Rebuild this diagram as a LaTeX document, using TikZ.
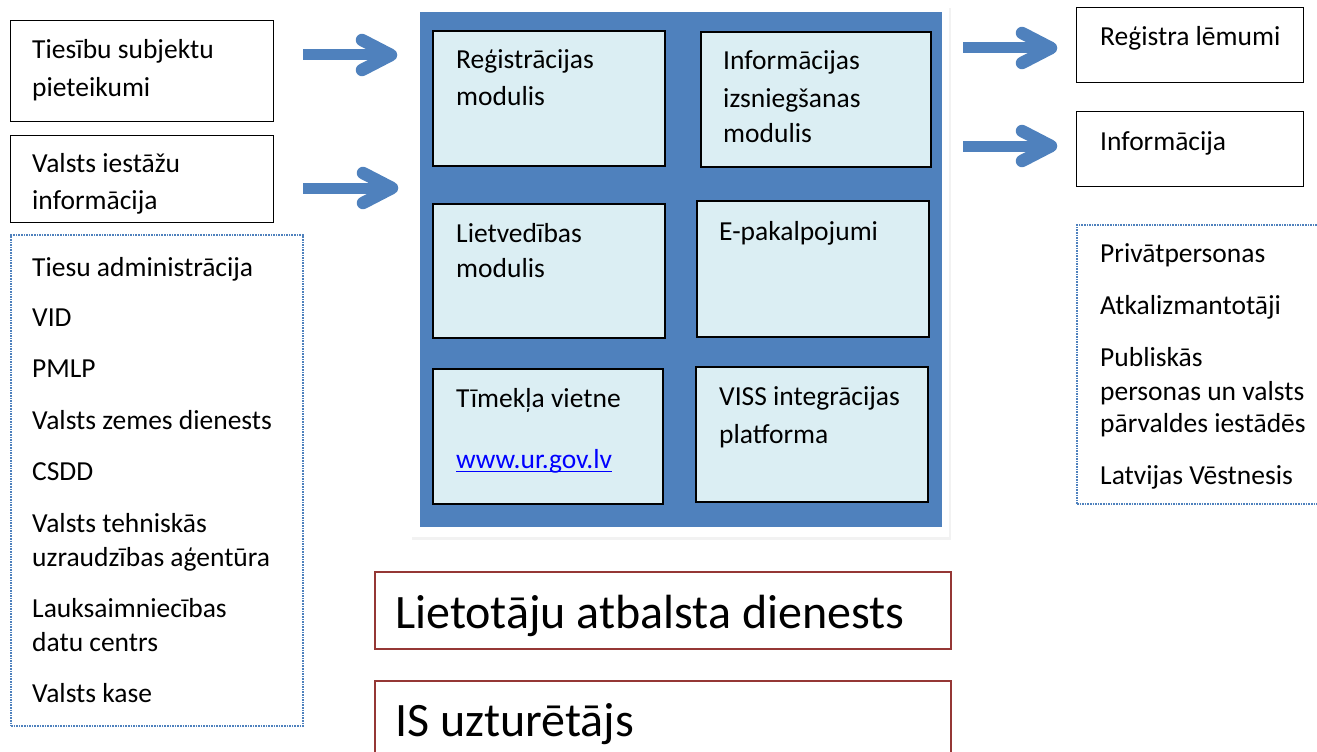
\documentclass[tikz,border=0pt]{standalone}
\usepackage{fontspec}
\setmainfont{Carlito}
\definecolor{mainblue}{HTML}{4F81BD}
\definecolor{lightbox}{HTML}{DBEEF3}
\definecolor{darkred}{HTML}{953735}
\definecolor{linkblue}{HTML}{0000FF}
\begin{document}
\begin{tikzpicture}[x=1pt,y=-1pt,
  txt/.style={anchor=base west,inner sep=0pt,font=\fontsize{27.5}{33}\selectfont},
  bigtxt/.style={anchor=base west,inner sep=0pt,font=\fontsize{48}{56}\selectfont},
  wbox/.style={draw=black,line width=1.3pt,fill=white,anchor=north west,inner sep=0pt},
  ibox/.style={draw=black,line width=1.6pt,fill=lightbox,anchor=north west,inner sep=0pt},
  dbox/.style={draw=mainblue,line width=2pt,dash pattern=on 1.6pt off 1pt,anchor=north west,inner sep=0pt},
  rbox/.style={draw=darkred,line width=1.5pt,fill=white,anchor=north west,inner sep=0pt},
  shaft/.style={draw=mainblue,line width=11pt},
  chev/.style={draw=mainblue,line width=12.5pt,line cap=round,line join=round}]
\useasboundingbox (0,0) rectangle (1317,752);
\clip (0,0) rectangle (1317,752);

% left input boxes
\node[wbox,minimum width=263pt,minimum height=101pt] (subj) at (10,20) {};
\node[txt] (subj1) at (32,59) {Tiesību subjektu};
\node[txt] (subj2) at (32,96) {pieteikumi};
\node[wbox,minimum width=263pt,minimum height=87pt] (iest) at (10,135) {};
\node[txt] (iest1) at (32,172) {Valsts iestāžu};
\node[txt] (iest2) at (32,209) {informācija};

% left dotted list
\node[dbox,minimum width=292pt,minimum height=491pt] (llist) at (10,234) {};
\node[txt] (l1) at (32,276) {Tiesu administrācija};
\node[txt] (l2) at (32,326) {VID};
\node[txt] (l3) at (32,377) {PMLP};
\node[txt] (l4) at (32,429) {Valsts zemes dienests};
\node[txt] (l5) at (32,480) {CSDD};
\node[txt] (l6) at (32,532) {Valsts tehniskās};
\node[txt] (l7) at (32,566) {uzraudzības aģentūra};
\node[txt] (l8) at (32,617) {Lauksaimniecības};
\node[txt] (l9) at (32,651) {datu centrs};
\node[txt] (l10) at (32,702) {Valsts kase};

% main block with frame and shadow
\fill[black!5] (412,8) rectangle (951,540);
\fill[white] (410,5) rectangle (949,537);
\node[fill=mainblue,anchor=north west,inner sep=0pt,minimum width=522pt,minimum height=515pt] (main) at (420,12) {};

\node[ibox,minimum width=232pt,minimum height=135pt] (reg) at (432,30) {};
\node[txt] (reg1) at (456,69) {Reģistrācijas};
\node[txt] (reg2) at (456,106) {modulis};
\node[ibox,minimum width=230pt,minimum height=135pt] (info) at (700,31) {};
\node[txt] (info1) at (723,70) {Informācijas};
\node[txt] (info2) at (723,107) {izsniegšanas};
\node[txt] (info3) at (723,142) {modulis};
\node[ibox,minimum width=232pt,minimum height=134pt] (liet) at (432,203) {};
\node[txt] (liet1) at (456,242) {Lietvedības};
\node[txt] (liet2) at (456,277) {modulis};
\node[ibox,minimum width=232pt,minimum height=136pt] (epak) at (696,200) {};
\node[txt] (epak1) at (719,240) {E-pakalpojumi};
\node[ibox,minimum width=230pt,minimum height=135pt] (web) at (432,368) {};
\node[txt] (web1) at (456,407) {Tīmekļa vietne};
\node[txt,text=linkblue] (link) at (456,468) {www.ur.gov.lv};
\draw[linkblue,line width=1.5pt] ([yshift=-3.5pt]link.base west) -- ([yshift=-3.5pt]link.base east);
\node[ibox,minimum width=232pt,minimum height=135pt] (viss) at (695,366) {};
\node[txt] (viss1) at (719,405) {VISS integrācijas};
\node[txt] (viss2) at (719,443) {platforma};

% right output boxes
\node[wbox,minimum width=227pt,minimum height=75pt] (lem) at (1076,7) {};
\node[txt] (lem1) at (1100,46) {Reģistra lēmumi};
\node[wbox,minimum width=227pt,minimum height=75pt] (infr) at (1076,111) {};
\node[txt] (infr1) at (1100,150) {Informācija};

% right dotted list
\node[dbox,minimum width=260pt,minimum height=279pt] (rlist) at (1076,224) {};
\node[txt] (r1) at (1100,262) {Privātpersonas};
\node[txt] (r2) at (1100,314) {Atkalizmantotāji};
\node[txt] (r3) at (1100,366) {Publiskās};
\node[txt] (r4) at (1100,400) {personas un valsts};
\node[txt] (r5) at (1100,432) {pārvaldes iestādēs};
\node[txt] (r6) at (1100,484) {Latvijas Vēstnesis};

% bottom boxes
\node[rbox,minimum width=576pt,minimum height=77pt] (atb) at (374,571) {};
\node[bigtxt] (atb1) at (395,628) {Lietotāju atbalsta dienests};
\node[rbox,minimum width=576pt,minimum height=100pt] (uzt) at (374,680) {};
\node[bigtxt] (uzt1) at (395,736) {IS uzturētājs};

% arrows
\coordinate (a1s) at (303,55); \coordinate (a1e) at (391,55);
\coordinate (a2s) at (303,188); \coordinate (a2e) at (392,188);
\coordinate (a3s) at (963,48); \coordinate (a3e) at (1051,48);
\coordinate (a4s) at (963,146); \coordinate (a4e) at (1051,146);
\foreach \s/\e in {a1s/a1e,a2s/a2e,a3s/a3e,a4s/a4e}{
  \draw[shaft] (\s) -- ([xshift=-8pt]\e);
  \draw[chev] ([shift={(-29,-15)}]\e) -- (\e) -- ([shift={(-29,15)}]\e);
}
\end{tikzpicture}
\end{document}
